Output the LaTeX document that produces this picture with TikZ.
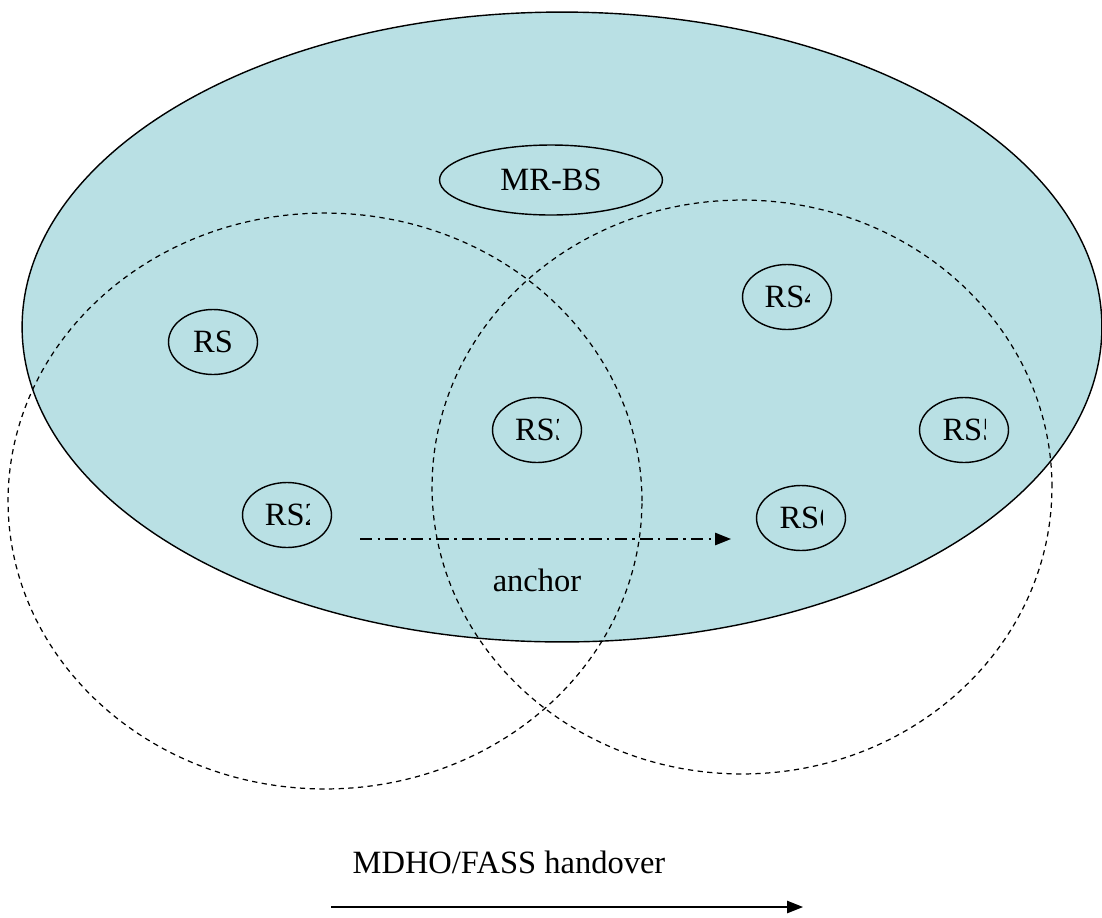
\documentclass[tikz,border=0pt]{standalone}
\usepackage{fontspec}
\usepackage{trimclip}
\setmainfont{Liberation Serif}
\usetikzlibrary{shapes.geometric,arrows.meta}
\definecolor{cellblue}{RGB}{185,224,228}
\pgfdeclarelayer{edgelayer}
\pgfdeclarelayer{nodelayer}
\pgfsetlayers{edgelayer,nodelayer,main}
\tikzstyle{none}=[inner sep=0pt]
\tikzstyle{cell}=[ellipse,fill=cellblue,draw=black,line width=0.8pt,inner sep=0pt,minimum width=21.6cm,minimum height=12.6cm]
\tikzstyle{coverage}=[ellipse,draw=black,line width=0.7pt,dash pattern=on 3pt off 2.5pt,inner sep=0pt]
\tikzstyle{station}=[ellipse,draw=black,line width=0.8pt,inner sep=0pt,minimum width=1.78cm,minimum height=1.3cm]
\tikzstyle{simple}=[-{Triangle[length=9pt,width=7pt]},draw=black,line width=0.8pt]
\tikzstyle{relay}=[simple,dash pattern=on 7pt off 3pt on 1.5pt off 3pt]
% label whose last digit is cut off
\newcommand{\cutdigit}[2]{\clipbox*{0pt -4pt #2 16pt}{#1}}

\begin{document}
\begin{tikzpicture}[x=0.02cm,y=-0.02cm,font=\fontsize{18.5}{22}\selectfont]
	\useasboundingbox (0,0) rectangle (1102,917);
	\begin{pgfonlayer}{edgelayer}
		\node [style=cell] (cell) at (562, 327) {};
		\node [style=coverage, minimum width=12.68cm, minimum height=11.52cm] (0) at (325, 501) {};
		\node [style=coverage, minimum width=12.4cm, minimum height=11.48cm] (1) at (742, 487) {};
	\end{pgfonlayer}
	\begin{pgfonlayer}{nodelayer}
		\node [style=station, minimum width=4.46cm, minimum height=1.4cm] (2) at (551, 180) {MR-BS};
		\node [style=station] (3) at (213, 342) {RS};
		\node [style=station] (4) at (287, 515) {RS\cutdigit{2}{2.6pt}};
		\node [style=station] (5) at (537, 430) {RS\cutdigit{3}{2.4pt}};
		\node [style=station] (6) at (787, 297) {RS\cutdigit{4}{2.8pt}};
		\node [style=station] (7) at (964, 430) {RS\cutdigit{5}{1.8pt}};
		\node [style=station] (8) at (801, 518) {RS\cutdigit{6}{1.8pt}};
		\coordinate (9) at (360, 539);
		\coordinate (10) at (731, 539);
		\node [style=none] (11) at (537, 580) {anchor};
		\node [style=none] (12) at (509, 862) {MDHO/FASS handover};
		\coordinate (13) at (331, 907);
		\coordinate (14) at (803, 907);
	\end{pgfonlayer}
	\draw [style=relay] (9) to (10);
	\draw [style=simple] (13) to (14);
\end{tikzpicture}
\end{document}
